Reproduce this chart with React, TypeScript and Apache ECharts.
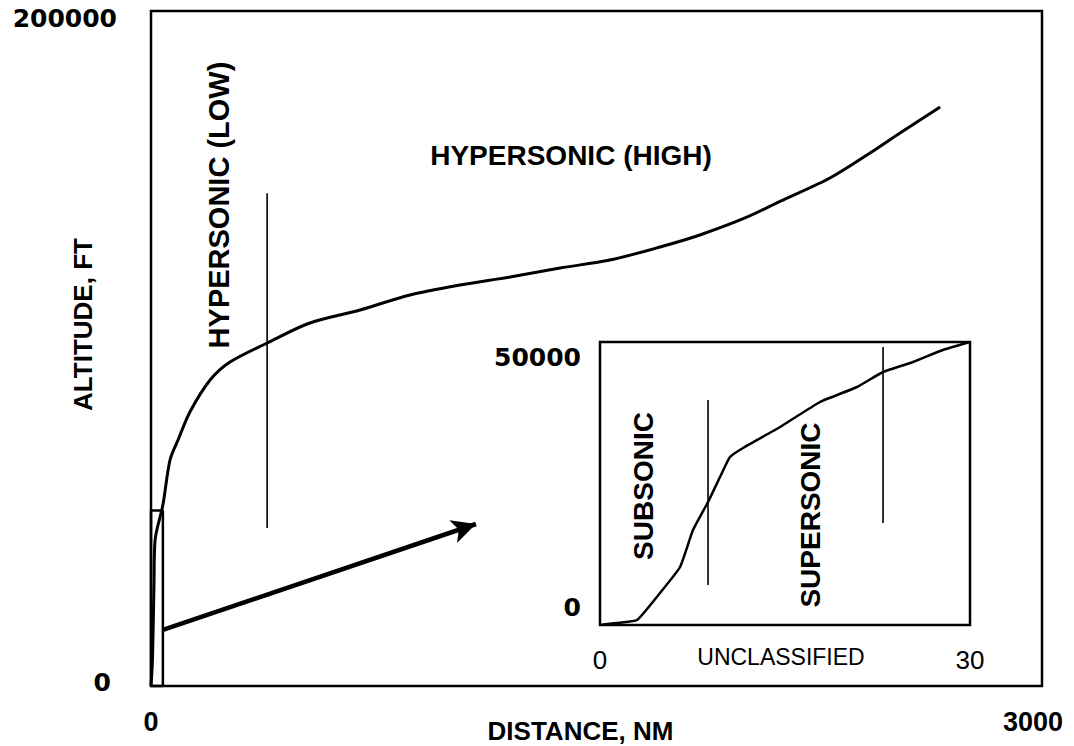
import React, { useEffect, useRef } from "react";
import * as echarts from "echarts";

// Main chart: altitude (ft) vs distance (NM)
const mainDist = [0, 5, 10, 13.5, 40, 64, 91, 131, 199, 266, 391, 535, 704, 872, 1040, 1209, 1377, 1545, 1714, 1848, 2000, 2118, 2286, 2421, 2522, 2657];
const mainAlt = [0, 8000, 30000, 43000, 53600, 66960, 72890, 81190, 90670, 96000, 101630, 107560, 111410, 115850, 118810, 121190, 123850, 126220, 130070, 133630, 138670, 143600, 150520, 157930, 163850, 171560];
const mainBoundaryDist = [391, 391];
const mainBoundaryAlt = [46800, 146000];
const zoomBoxDist = [0, 40, 40, 0, 0];
const zoomBoxAlt = [0, 0, 52000, 52000, 0];
const arrowDist = [40, 1094];
const arrowAlt = [16600, 48000];
const mainXTicks = [0, 3000];
const mainYTicks = [0, 200000];

// Inset: first 30 NM
const insetDist = [0, 1.5, 3.0, 4.86, 6.49, 7.54, 8.76, 9.73, 10.54, 11.6, 14.6, 17.84, 20.84, 22.95, 25.38, 27.8, 30];
const insetAlt = [0, 400, 880, 5650, 10250, 16780, 21730, 26150, 29680, 31270, 34980, 39400, 42050, 44700, 46470, 48590, 50000];
const insetLine1Dist = [8.76, 8.76];
const insetLine1Alt = [7070, 39750];
const insetLine2Dist = [22.95, 22.95];
const insetLine2Alt = [18020, 49100];
const insetXTicks = [0, 30];
const insetYTicks = [0, 50000];

const zip = (a: number[], b: number[]) => a.map((v, i) => [v, b[i]]);

const BOLD = '"Liberation Sans", Arial, sans-serif';
const WIDE = '"DejaVu Sans", sans-serif';

export default function App() {
  const ref = useRef<HTMLDivElement>(null);
  useEffect(() => {
    if (!ref.current) return;
    const chart = echarts.init(ref.current, undefined, { renderer: "svg" });
    const lineBase = { type: "line", showSymbol: false, symbol: "none", silent: true };
    const option: any = {
      animation: false,
      backgroundColor: "#ffffff",
      grid: [
        { left: 151, top: 11, width: 891, height: 675, show: true, borderColor: "#000", borderWidth: 2.5, backgroundColor: "transparent", containLabel: false, outerBoundsMode: "none" },
        { left: 600, top: 342, width: 370, height: 283, show: true, borderColor: "#000", borderWidth: 2.5, backgroundColor: "#ffffff", containLabel: false, outerBoundsMode: "none" },
      ],
      xAxis: [
        {
          gridIndex: 0, type: "value", min: mainXTicks[0], max: mainXTicks[1], interval: 3000,
          axisLine: { show: false }, axisTick: { show: false }, splitLine: { show: false },
          axisLabel: {
            margin: 22,
            formatter: (v: number) => (v === mainXTicks[1] ? `{r|${v}}` : `{n|${v}}`),
            rich: {
              n: { fontFamily: BOLD, fontWeight: "bold", fontSize: 27, color: "#000" },
              r: { fontFamily: BOLD, fontWeight: "bold", fontSize: 27, color: "#000", padding: [0, 18, 0, 0] },
            },
          },
          name: "DISTANCE, NM", nameLocation: "middle", nameGap: 32, nameMoveOverlap: false,
          nameTextStyle: { fontFamily: BOLD, fontWeight: "bold", fontSize: 26, color: "#000", padding: [0, 32, 0, 0] },
        },
        {
          gridIndex: 1, type: "value", min: insetXTicks[0], max: insetXTicks[1], interval: 30,
          axisLine: { show: false }, axisTick: { show: false }, splitLine: { show: false },
          axisLabel: { margin: 22, fontFamily: BOLD, fontSize: 26, color: "#000" },
          name: "UNCLASSIFIED", nameLocation: "middle", nameGap: 20, nameMoveOverlap: false,
          nameTextStyle: { fontFamily: BOLD, fontSize: 23, color: "#000", padding: [0, 8, 0, 0] },
        },
      ],
      yAxis: [
        {
          gridIndex: 0, type: "value", min: mainYTicks[0], max: mainYTicks[1], interval: 200000,
          axisLine: { show: false }, axisTick: { show: false }, splitLine: { show: false },
          axisLabel: {
            margin: 34,
            formatter: (v: number) => (v === mainYTicks[1] ? `{t|${v}}` : `{b|${v}}`),
            rich: {
              t: { fontFamily: WIDE, fontWeight: "bold", fontSize: 25, color: "#000", padding: [14, 0, 0, 0] },
              b: { fontFamily: WIDE, fontWeight: "bold", fontSize: 25, color: "#000", padding: [0, 6, 8, 0] },
            },
          },
          name: "ALTITUDE, FT", nameLocation: "middle", nameGap: 55, nameRotate: 90, nameMoveOverlap: false,
          nameTextStyle: { fontFamily: BOLD, fontWeight: "bold", fontSize: 26, color: "#000", padding: [0, 0, 0, 48] },
        },
        {
          gridIndex: 1, type: "value", min: insetYTicks[0], max: insetYTicks[1], interval: 50000,
          axisLine: { show: false }, axisTick: { show: false }, splitLine: { show: false },
          axisLabel: {
            margin: 19,
            formatter: (v: number) => (v === insetYTicks[1] ? `{t|${v}}` : `{b|${v}}`),
            rich: {
              t: { fontFamily: WIDE, fontWeight: "bold", fontSize: 25, color: "#000", padding: [30, 0, 0, 0] },
              b: { fontFamily: WIDE, fontWeight: "bold", fontSize: 25, color: "#000", padding: [0, 0, 36, 0] },
            },
          },
        },
      ],
      series: [
        { ...lineBase, name: "Trajectory", xAxisIndex: 0, yAxisIndex: 0, data: zip(mainDist, mainAlt), smooth: 0.3, lineStyle: { color: "#000", width: 3 } },
        { ...lineBase, name: "Low/High boundary", xAxisIndex: 0, yAxisIndex: 0, data: zip(mainBoundaryDist, mainBoundaryAlt), lineStyle: { color: "#000", width: 1.6 } },
        { ...lineBase, name: "Zoom box", xAxisIndex: 0, yAxisIndex: 0, data: zip(zoomBoxDist, zoomBoxAlt), clip: false, lineStyle: { color: "#000", width: 2.5 } },
        {
          ...lineBase, name: "Arrow", xAxisIndex: 0, yAxisIndex: 0, data: [],
          markLine: {
            silent: true, symbol: ["none", "arrow"], symbolSize: [18, 24], label: { show: false },
            lineStyle: { color: "#000", width: 4.5, type: "solid" },
            data: [[{ coord: [arrowDist[0], arrowAlt[0]] }, { coord: [arrowDist[1], arrowAlt[1]] }]],
          },
        },
        { ...lineBase, name: "Inset trajectory", xAxisIndex: 1, yAxisIndex: 1, data: zip(insetDist, insetAlt), smooth: 0.15, lineStyle: { color: "#000", width: 2.5 } },
        { ...lineBase, name: "Subsonic boundary", xAxisIndex: 1, yAxisIndex: 1, data: zip(insetLine1Dist, insetLine1Alt), lineStyle: { color: "#000", width: 1.6 } },
        { ...lineBase, name: "Supersonic boundary", xAxisIndex: 1, yAxisIndex: 1, data: zip(insetLine2Dist, insetLine2Alt), lineStyle: { color: "#000", width: 1.6 } },
      ],
      graphic: [
        { type: "text", x: 571, y: 155, style: { text: "HYPERSONIC (HIGH)", align: "center", verticalAlign: "middle", font: `bold 28px ${BOLD}`, fill: "#000" } },
        { type: "text", x: 219, y: 205, rotation: Math.PI / 2, style: { text: "HYPERSONIC (LOW)", align: "center", verticalAlign: "middle", font: `bold 29px ${BOLD}`, fill: "#000" } },
        { type: "text", x: 643, y: 486, rotation: Math.PI / 2, style: { text: "SUBSONIC", align: "center", verticalAlign: "middle", font: `bold 28px ${BOLD}`, fill: "#000" } },
        { type: "text", x: 810, y: 515, rotation: Math.PI / 2, style: { text: "SUPERSONIC", align: "center", verticalAlign: "middle", font: `bold 28px ${BOLD}`, fill: "#000" } },
      ],
    };
    chart.setOption(option);
    return () => chart.dispose();
  }, []);
  return <div ref={ref} style={{ position: "fixed", left: 0, top: 0, width: 1074, height: 746 }} />;
}
